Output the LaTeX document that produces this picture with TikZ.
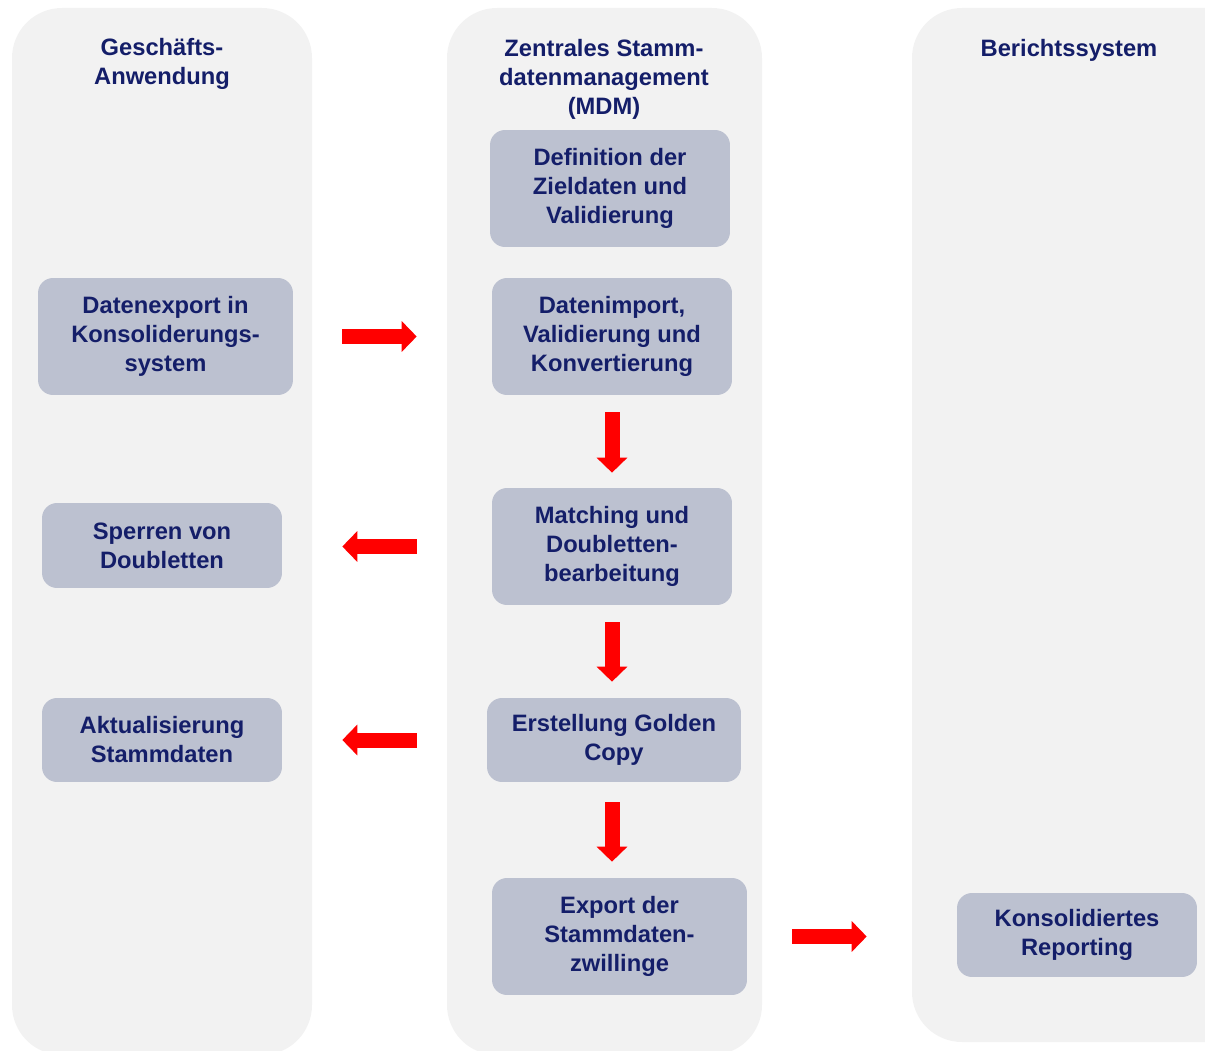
\documentclass[tikz,border=0pt]{standalone}
\usepackage{fontspec}
\setmainfont{Liberation Sans}
\usetikzlibrary{arrows.meta}
\definecolor{lanegray}{RGB}{242,242,242}
\definecolor{boxblue}{RGB}{188,193,208}
\definecolor{textnavy}{RGB}{20,30,105}
\tikzset{lane/.style={fill=lanegray,rounded corners=1cm},
  stepbox/.style={fill=boxblue,rounded corners=0.3cm,align=center,text=textnavy,
    font=\bfseries\fontsize{13.5}{16.5}\selectfont,minimum width=4.8cm,minimum height=2.34cm,inner sep=0pt},
  lanetitle/.style={align=center,text=textnavy,font=\bfseries\fontsize{13.5}{16.5}\selectfont},
  flow/.style={draw=red,line width=0.3cm,-{Triangle[length=0.3cm,width=0.6cm]}}}

\begin{document}
\begin{tikzpicture}[x=0.02cm,y=-0.02cm]
\useasboundingbox (0,0) rectangle (1205,1051);
\clip (0,0) rectangle (1205,1051);
% lanes
\fill[lane] (12,8) rectangle (312,1055);
\fill[lane] (447,8) rectangle (762,1055);
\fill[lane] (912,8) rectangle (1300,1042);
\node[lanetitle] (gtitle) at (162,64) {Geschäfts-\\Anwendung};
\node[lanetitle] (mtitle) at (604,79) {Zentrales Stamm-\\datenmanagement\\(MDM)};
\node[lanetitle] (btitle) at (1069,50) {Berichtssystem};
% MDM steps
\node[stepbox] (def) at (610,188.5) {Definition der\\Zieldaten und\\Validierung};
\node[stepbox] (imp) at (612,336.5) {Datenimport,\\Validierung und\\Konvertierung};
\node[stepbox] (match) at (612,546.5) {Matching und\\Doubletten-\\bearbeitung};
\node[stepbox,minimum width=5.08cm,minimum height=1.68cm] (golden) at (614,740) {Erstellung Golden\\Copy};
\node[stepbox,minimum width=5.1cm] (export) at (619.5,936.5) {Export der\\Stammdaten-\\zwillinge};
% business application
\node[stepbox,minimum width=5.1cm] (dexp) at (165.5,336.5) {Datenexport in\\Konsoliderungs-\\system};
\node[stepbox,minimum height=1.7cm] (sperr) at (162,545.5) {Sperren von\\Doubletten};
\node[stepbox,minimum height=1.68cm] (akt) at (162,740) {Aktualisierung\\Stammdaten};
% reporting
\node[stepbox,minimum height=1.68cm] (rep) at (1077,935) {Konsolidiertes\\Reporting};
% arrows
\draw[flow,shorten <=0.98cm,shorten >=1.5cm] (dexp.east) -- (imp.west);
\draw[flow,shorten <=0.34cm,shorten >=0.3cm] (imp.south) -- (match.north);
\draw[flow,shorten <=0.34cm,shorten >=0.32cm] (match.south) -- (match.south |- golden.north);
\draw[flow,shorten <=0.4cm,shorten >=0.32cm] (golden.south -| imp.south) -- (export.north -| imp.south);
\draw[flow,shorten <=1.5cm,shorten >=1.2cm] (match.west) -- (match.west -| sperr.east);
\draw[flow,shorten <=1.4cm,shorten >=1.2cm] (golden.west) -- (golden.west -| akt.east);
\draw[flow,shorten <=0.9cm,shorten >=1.8cm] (export.east) -- (export.east -| rep.west);
\end{tikzpicture}
\end{document}
